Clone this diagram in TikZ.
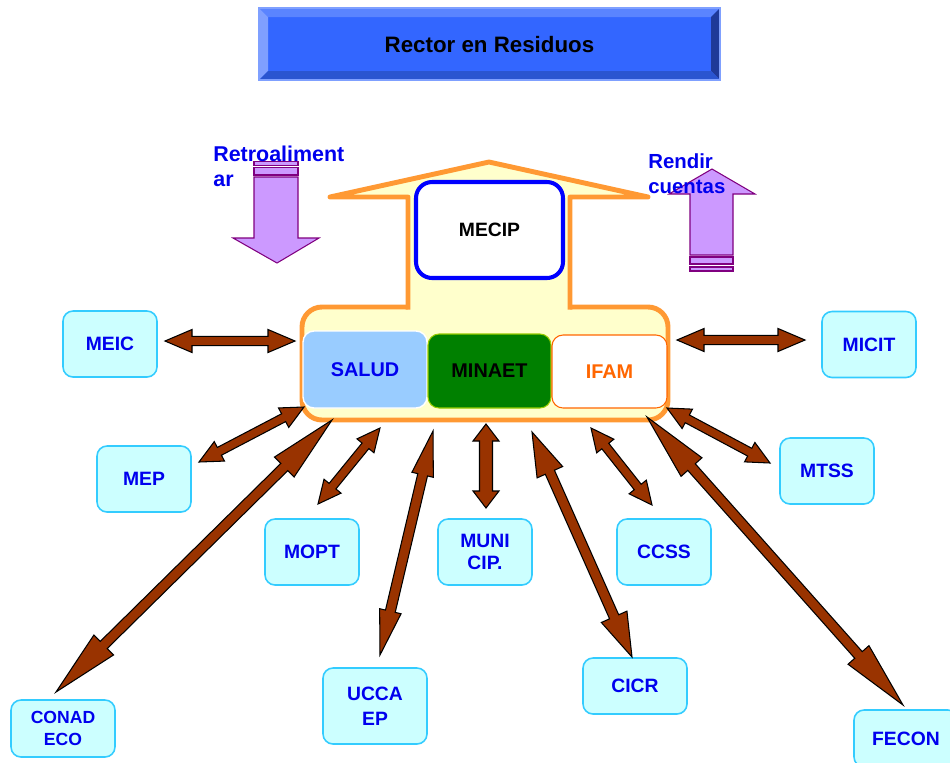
\documentclass[tikz,border=0pt]{standalone}
\usepackage{fontspec}
\setmainfont{Liberation Sans}
\usetikzlibrary{calc}
\definecolor{mainblue}{HTML}{3366FF}
\definecolor{bevtop}{HTML}{5A84FF}
\definecolor{bevleft}{HTML}{7F9FFF}
\definecolor{bevright}{HTML}{1F3A99}
\definecolor{bevbot}{HTML}{2A55D0}
\definecolor{titleedge}{HTML}{7FA0FF}
\definecolor{houseorange}{HTML}{FF9933}
\definecolor{housefill}{HTML}{FFFFCC}
\definecolor{mecipblue}{HTML}{0000FF}
\definecolor{saludfill}{HTML}{99CCFF}
\definecolor{minaetfill}{HTML}{008000}
\definecolor{minaetedge}{HTML}{99CC00}
\definecolor{ifamorange}{HTML}{FF6600}
\definecolor{purpfill}{HTML}{CC99FF}
\definecolor{purpedge}{HTML}{800080}
\definecolor{arrbrown}{HTML}{993300}
\definecolor{boxfill}{HTML}{CCFFFF}
\definecolor{boxedge}{HTML}{33CCFF}
\definecolor{lblue}{HTML}{0000EE}

% block double arrow: #1 tip A, #2 tip B, #3 half shaft, #4 half head A, #5 head length A, #6 half head B, #7 head length B (pixels)
\newcommand\blockarrow[7]{%
  \pgfmathsetlengthmacro\baW{#3*0.02cm}%
  \pgfmathsetlengthmacro\baHA{#4*0.02cm}%
  \pgfmathsetlengthmacro\baLA{#5*0.02cm}%
  \pgfmathsetlengthmacro\baHB{#6*0.02cm}%
  \pgfmathsetlengthmacro\baLB{#7*0.02cm}%
  \coordinate (ba-p) at ($(#1)!\baLA!(#2)$);%
  \coordinate (ba-q) at ($(#2)!\baLB!(#1)$);%
  \filldraw[brownarrow] (#1) -- ($(ba-p)!\baHA!90:(#2)$) -- ($(ba-p)!\baW!90:(#2)$)
    -- ($(ba-q)!\baW!-90:(#1)$) -- ($(ba-q)!\baHB!-90:(#1)$) -- (#2)
    -- ($(ba-q)!\baHB!90:(#1)$) -- ($(ba-q)!\baW!90:(#1)$)
    -- ($(ba-p)!\baW!-90:(#2)$) -- ($(ba-p)!\baHA!-90:(#2)$) -- cycle;%
}

\begin{document}
\begin{tikzpicture}[x=0.02cm,y=-0.02cm,
  brownarrow/.style={fill=arrbrown,draw=black,line width=0.6pt,line join=miter},
  purp/.style={fill=purpfill,draw=purpedge,line width=0.6pt},
  houseline/.style={draw=houseorange,line width=2.8pt},
  pbox/.style={draw=boxedge,fill=boxfill,line width=0.9pt,rounded corners=0.2cm,
    text=lblue,font=\bfseries\fontsize{11}{13}\selectfont,align=center,inner sep=0pt,
    minimum width=1.88cm,minimum height=1.32cm},
  wbox/.style={pbox,minimum width=2.08cm},
  sidelbl/.style={text=lblue,anchor=north west,align=left,inner sep=0pt}
]
\useasboundingbox (0,0) rectangle (950,762);
\fill[white] (0,0) rectangle (950,762);

% ---- title with bevel ----
\coordinate (tnw) at (259,8);
\coordinate (tse) at (720,80);
\fill[mainblue] (tnw) rectangle (tse);
\fill[bevtop] (259,8) -- (720,8) -- (711,17) -- (268,17) -- cycle;
\fill[bevleft] (259,8) -- (268,17) -- (268,71) -- (259,80) -- cycle;
\fill[bevright] (720,8) -- (720,80) -- (711,71) -- (711,17) -- cycle;
\fill[bevbot] (259,80) -- (720,80) -- (711,71) -- (268,71) -- cycle;
\draw[titleedge,line width=0.6pt] (tnw) rectangle (tse);
\node[font=\bfseries\fontsize{12.7}{15}\selectfont,text=black] (title) at (489.5,45) {Rector en Residuos};

% ---- house ----
\filldraw[houseline,fill=housefill,rounded corners=0.4cm] (302,307) rectangle (668,420);
\fill[housefill] (408,311) -- (408,197) -- (330,197) -- (489,162) -- (648,197) -- (570,197) -- (570,311) -- cycle;
\draw[houseline,line join=round] (408,309.5) -- (408,197) -- (330,197) -- (489,162) -- (648,197) -- (570,197) -- (570,309.5);

\node[draw=mecipblue,line width=2.3pt,fill=white,rounded corners=0.32cm,
  minimum width=2.94cm,minimum height=1.92cm,inner sep=0pt,
  font=\bfseries\fontsize{11}{13}\selectfont] (mecip) at (489.5,230) {MECIP};

\node[draw=white,line width=0.8pt,fill=saludfill,rounded corners=0.22cm,
  minimum width=2.48cm,minimum height=1.54cm,inner sep=0pt,text=lblue,
  font=\bfseries\fontsize{11.3}{13}\selectfont] (salud) at (365,369.5) {SALUD};
\node[draw=minaetedge,line width=0.6pt,fill=minaetfill,rounded corners=0.22cm,
  minimum width=2.46cm,minimum height=1.48cm,inner sep=0pt,text=black,
  font=\bfseries\fontsize{11.3}{13}\selectfont] (minaet) at (489.5,371) {MINAET};
\node[draw=ifamorange,line width=0.6pt,fill=white,rounded corners=0.22cm,
  minimum width=2.3cm,minimum height=1.46cm,inner sep=0pt,text=ifamorange,
  font=\bfseries\fontsize{11.3}{13}\selectfont] (ifam) at (609.5,371.5) {IFAM};

% ---- purple arrows ----
\filldraw[purp] (254,161.7) rectangle (298,165.7);
\filldraw[purp] (254,167.3) rectangle (298,175);
\filldraw[purp] (254,177) -- (298,177) -- (298,238) -- (319,238) -- (277,263) -- (233,238) -- (254,238) -- cycle;
\node[sidelbl,font=\bfseries\fontsize{12.2}{14.2}\selectfont] (retro) at (213,145.5) {Retroaliment\\ar};

\filldraw[purp] (690,255) -- (690,194) -- (669,194) -- (712,169) -- (755,194) -- (733,194) -- (733,255) -- cycle;
\filldraw[purp] (690,257) rectangle (733,264);
\filldraw[purp] (690,267) rectangle (733,271);
\node[sidelbl,font=\bfseries\fontsize{11.6}{14.2}\selectfont] (rendir) at (648,153.5) {Rendir\\cuentas};

% ---- peripheral boxes ----
\node[pbox] (meic) at (110,344) {MEIC};
\node[pbox] (micit) at (869,344.5) {MICIT};
\node[pbox] (mep) at (144,479) {MEP};
\node[pbox] (mtss) at (827,471) {MTSS};
\node[pbox] (mopt) at (312,552) {MOPT};
\node[pbox] (munic) at (485,552) {MUNI\\CIP.};
\node[pbox] (ccss) at (664,552) {CCSS};
\node[wbox,minimum height=1.14cm,font=\bfseries\fontsize{10}{12.4}\selectfont] (conad) at (63,728.5) {CONAD\\ECO};
\node[wbox,minimum height=1.52cm,font=\bfseries\fontsize{11}{14}\selectfont] (ucca) at (375,706) {UCCA\\EP};
\node[wbox,minimum height=1.12cm] (cicr) at (635,686) {CICR};
\node[wbox,minimum height=1.14cm] (fecon) at (906,738.5) {FECON};

% ---- connector tips ----
\coordinate (meicA) at (165,341);   \coordinate (meicB) at (295,341);
\coordinate (micitA) at (677,340);  \coordinate (micitB) at (805,340);
\coordinate (mepA) at (199,462);    \coordinate (mepB) at (304,407);
\coordinate (moptA) at (318,504);   \coordinate (moptB) at (380,428);
\coordinate (munA) at (486,424);    \coordinate (munB) at (486,508);
\coordinate (ccssA) at (591,428);   \coordinate (ccssB) at (652,505);
\coordinate (mtssA) at (667,408);   \coordinate (mtssB) at (770,463);
\coordinate (conA) at (332,420);    \coordinate (conB) at (56,692);
\coordinate (uccA) at (433,431);    \coordinate (uccB) at (380,655);
\coordinate (cicrA) at (532,432);   \coordinate (cicrB) at (632,657);
\coordinate (fecA) at (647,417);    \coordinate (fecB) at (903,705);

\blockarrow{meicA}{meicB}{4.6}{11.5}{27}{11.5}{27}
\blockarrow{micitA}{micitB}{4.6}{11.5}{27}{11.5}{27}
\blockarrow{mepA}{mepB}{4.4}{11}{23}{11}{23}
\blockarrow{moptA}{moptB}{4.4}{11}{23}{11}{23}
\blockarrow{munA}{munB}{6.5}{13}{17}{13}{17}
\blockarrow{ccssA}{ccssB}{4.4}{11}{23}{11}{23}
\blockarrow{mtssA}{mtssB}{4.4}{11}{23}{11}{23}
\blockarrow{conA}{conB}{5}{14}{67}{14}{67}
\blockarrow{uccA}{uccB}{5}{11}{45}{11}{45}
\blockarrow{cicrA}{cicrB}{5}{14}{44}{14}{44}
\blockarrow{fecA}{fecB}{5}{14}{67}{14}{67}
\end{tikzpicture}
\end{document}
